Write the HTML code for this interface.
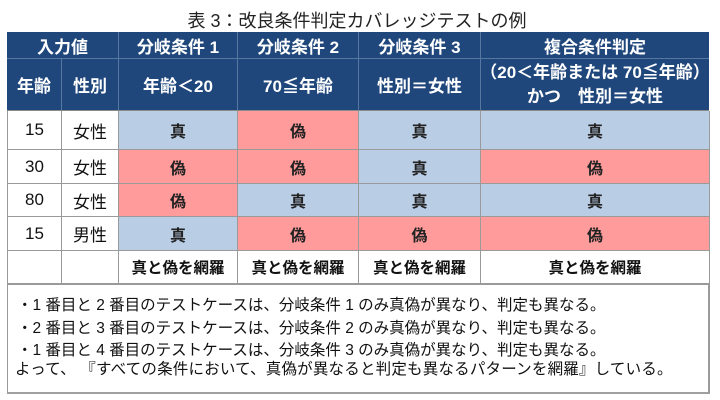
<!DOCTYPE html>
<html><head><meta charset="utf-8"><style>
html,body{margin:0;padding:0;background:#fff;}
#c{position:relative;width:720px;height:400px;overflow:hidden;background:#fff;font-family:"Liberation Sans","Noto Sans CJK JP",sans-serif;}
.a{position:absolute;box-sizing:border-box;display:flex;align-items:center;justify-content:center;white-space:nowrap;}
.h{background:#1f477c;color:#fff;font-weight:bold;font-size:17px;border-right:1px solid #56779f;border-bottom:1px solid #56779f;}
.d{border-right:1px solid #9a9a9a;border-bottom:1px solid #9a9a9a;color:#111;font-size:17px;}
.b{background:#b9cde5;}
.p{background:#ff9b9b;}
.v{font-weight:bold;font-size:16px;color:#222;}
.f{font-weight:bold;font-size:15.5px;color:#111;}
.ln{position:absolute;left:12px;font-size:15.5px;color:#111;white-space:nowrap;line-height:22px;}
</style></head><body><div id="c">
<div class="a" style="left:0;top:8px;width:714px;height:24px;font-size:18px;color:#222;">表 3：改良条件判定カバレッジテストの例</div>

<!-- header row 1 -->
<div class="a h" style="left:7px;top:32px;width:112px;height:27px;">入力値</div>
<div class="a h" style="left:119px;top:32px;width:119px;height:27px;">分岐条件 1</div>
<div class="a h" style="left:238px;top:32px;width:121px;height:27px;">分岐条件 2</div>
<div class="a h" style="left:359px;top:32px;width:122px;height:27px;">分岐条件 3</div>
<div class="a h" style="left:481px;top:32px;width:228px;height:27px;border-right:none;">複合条件判定</div>
<!-- header row 2 -->
<div class="a h" style="left:7px;top:59px;width:55px;height:51px;border-bottom:none;">年齢</div>
<div class="a h" style="left:62px;top:59px;width:57px;height:51px;border-bottom:none;">性別</div>
<div class="a h" style="left:119px;top:59px;width:119px;height:51px;border-bottom:none;">年齢＜20</div>
<div class="a h" style="left:238px;top:59px;width:121px;height:51px;border-bottom:none;">70≦年齢</div>
<div class="a h" style="left:359px;top:59px;width:122px;height:51px;border-bottom:none;">性別＝女性</div>
<div class="a h" style="left:481px;top:59px;width:228px;height:51px;border-right:none;border-bottom:none;flex-direction:column;line-height:24px;">
<div>（20＜年齢または 70≦年齢）</div><div>かつ　性別＝女性</div></div>

<div style="position:absolute;left:7px;top:110px;width:702px;height:1px;background:#8a8a8a;"></div>
<div style="position:absolute;left:7px;top:111px;width:1px;height:173px;background:#9a9a9a;"></div>

<!-- row 1 -->
<div class="a d" style="left:8px;top:111px;width:54px;height:39px;">15</div>
<div class="a d" style="left:62px;top:111px;width:57px;height:39px;">女性</div>
<div class="a d b v" style="left:119px;top:111px;width:119px;height:39px;">真</div>
<div class="a d p v" style="left:238px;top:111px;width:121px;height:39px;">偽</div>
<div class="a d b v" style="left:359px;top:111px;width:122px;height:39px;">真</div>
<div class="a d b v" style="left:481px;top:111px;width:229px;height:39px;">真</div>
<!-- row 2 -->
<div class="a d" style="left:8px;top:150px;width:54px;height:34px;">30</div>
<div class="a d" style="left:62px;top:150px;width:57px;height:34px;">女性</div>
<div class="a d p v" style="left:119px;top:150px;width:119px;height:34px;">偽</div>
<div class="a d p v" style="left:238px;top:150px;width:121px;height:34px;">偽</div>
<div class="a d b v" style="left:359px;top:150px;width:122px;height:34px;">真</div>
<div class="a d p v" style="left:481px;top:150px;width:229px;height:34px;">偽</div>
<!-- row 3 -->
<div class="a d" style="left:8px;top:184px;width:54px;height:33px;">80</div>
<div class="a d" style="left:62px;top:184px;width:57px;height:33px;">女性</div>
<div class="a d p v" style="left:119px;top:184px;width:119px;height:33px;">偽</div>
<div class="a d b v" style="left:238px;top:184px;width:121px;height:33px;">真</div>
<div class="a d b v" style="left:359px;top:184px;width:122px;height:33px;">真</div>
<div class="a d b v" style="left:481px;top:184px;width:229px;height:33px;">真</div>
<!-- row 4 -->
<div class="a d" style="left:8px;top:217px;width:54px;height:34px;">15</div>
<div class="a d" style="left:62px;top:217px;width:57px;height:34px;">男性</div>
<div class="a d b v" style="left:119px;top:217px;width:119px;height:34px;">真</div>
<div class="a d p v" style="left:238px;top:217px;width:121px;height:34px;">偽</div>
<div class="a d p v" style="left:359px;top:217px;width:122px;height:34px;">偽</div>
<div class="a d p v" style="left:481px;top:217px;width:229px;height:34px;">偽</div>
<!-- footer row -->
<div class="a d" style="left:8px;top:251px;width:54px;height:33px;"></div>
<div class="a d" style="left:62px;top:251px;width:57px;height:33px;"></div>
<div class="a d f" style="left:119px;top:251px;width:119px;height:33px;">真と偽を網羅</div>
<div class="a d f" style="left:238px;top:251px;width:121px;height:33px;">真と偽を網羅</div>
<div class="a d f" style="left:359px;top:251px;width:122px;height:33px;">真と偽を網羅</div>
<div class="a d f" style="left:481px;top:251px;width:229px;height:33px;">真と偽を網羅</div>

<!-- note box -->
<div style="position:absolute;left:7px;top:284px;width:703px;height:110px;box-sizing:border-box;border:1px solid #9a9a9a;border-right:2px solid #9a9a9a;border-bottom:2px solid #a0a0a0;"></div>
<div class="ln" style="top:295px;left:17px;">・1 番目と 2 番目のテストケースは、分岐条件 1 のみ真偽が異なり、判定も異なる。</div>
<div class="ln" style="top:318px;left:17px;">・2 番目と 3 番目のテストケースは、分岐条件 2 のみ真偽が異なり、判定も異なる。</div>
<div class="ln" style="top:340px;left:17px;">・1 番目と 4 番目のテストケースは、分岐条件 3 のみ真偽が異なり、判定も異なる。</div>
<div class="ln" style="top:359px;left:15px;letter-spacing:0.2px;">よって、 『すべての条件において、真偽が異なると判定も異なるパターンを網羅』している。</div>
</div></body></html>
